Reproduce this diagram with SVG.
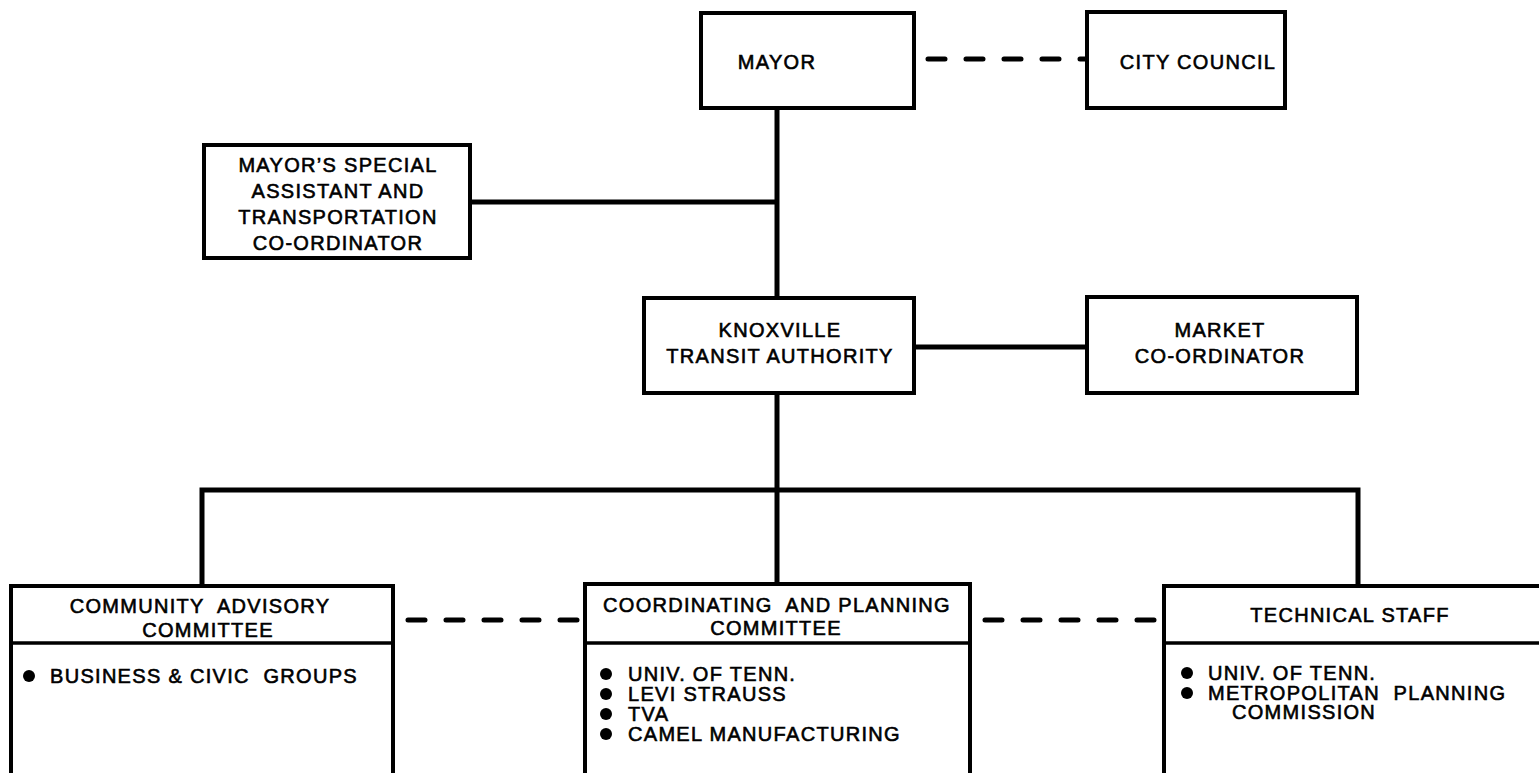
<svg xmlns="http://www.w3.org/2000/svg" width="1539" height="773" viewBox="0 0 1539 773">
  <style>
    .box { fill: #fff; stroke: #000; stroke-width: 4; }
    .div { stroke: #000; stroke-width: 3.5; }
    .line { stroke: #000; stroke-width: 5; fill: none; }
    .dash { stroke: #000; stroke-width: 5; fill: none; stroke-dasharray: 17 21; stroke-linecap: round; }
    text { font-family: "Liberation Sans", Arial, sans-serif; font-size: 20px; letter-spacing: 1.3px; fill: #000; stroke: #000; stroke-width: 0.6px; }
    .c { text-anchor: middle; }
    .dot { fill: #000; }
  </style>
  <rect width="1539" height="773" fill="#fff"/>

  <!-- connectors -->
  <g id="connectors">
    <line class="dash" x1="928" y1="59" x2="1086" y2="59"/>
    <line class="line" x1="777" y1="108" x2="777" y2="298"/>
    <line class="line" x1="470" y1="202" x2="777" y2="202"/>
    <line class="line" x1="914" y1="347" x2="1087" y2="347"/>
    <line class="line" x1="777" y1="393" x2="777" y2="584"/>
    <polyline class="line" points="202,586 202,490 1358,490 1358,586"/>
    <line class="dash" x1="408" y1="620" x2="583" y2="620"/>
    <line class="dash" x1="985" y1="620" x2="1160" y2="620"/>
  </g>

  <g id="mayor">
    <rect class="box" x="701" y="13" width="213" height="95"/>
    <text class="c" x="777" y="69">MAYOR</text>
  </g>

  <g id="city-council">
    <rect class="box" x="1087" y="12" width="198" height="96"/>
    <text class="c" x="1198" y="69">CITY COUNCIL</text>
  </g>

  <g id="special-assistant">
    <rect class="box" x="204" y="145" width="266" height="113"/>
    <text class="c" x="338" y="172">MAYOR’S SPECIAL</text>
    <text class="c" x="338" y="198">ASSISTANT AND</text>
    <text class="c" x="338" y="224">TRANSPORTATION</text>
    <text class="c" x="338" y="250">CO-ORDINATOR</text>
  </g>

  <g id="kta">
    <rect class="box" x="644" y="298" width="270" height="95"/>
    <text class="c" x="780" y="337">KNOXVILLE</text>
    <text class="c" x="780" y="363">TRANSIT AUTHORITY</text>
  </g>

  <g id="market-coordinator">
    <rect class="box" x="1087" y="297" width="270" height="96"/>
    <text class="c" x="1220" y="337">MARKET</text>
    <text class="c" x="1220" y="363">CO-ORDINATOR</text>
  </g>

  <g id="community-advisory">
    <rect class="box" x="11" y="586" width="382" height="210"/>
    <line class="div" x1="11" y1="643" x2="393" y2="643"/>
    <text class="c" x="200" y="613" xml:space="preserve">COMMUNITY  ADVISORY</text>
    <text class="c" x="208" y="637">COMMITTEE</text>
    <circle class="dot" cx="29" cy="676" r="6"/>
    <text x="50" y="683" xml:space="preserve">BUSINESS &amp; CIVIC  GROUPS</text>
  </g>

  <g id="coordinating-planning">
    <rect class="box" x="585" y="584" width="385" height="212"/>
    <line class="div" x1="585" y1="643" x2="970" y2="643"/>
    <text class="c" x="777" y="612" xml:space="preserve">COORDINATING  AND PLANNING</text>
    <text class="c" x="776" y="635">COMMITTEE</text>
    <circle class="dot" cx="606" cy="674" r="6"/>
    <text x="628" y="681">UNIV. OF TENN.</text>
    <circle class="dot" cx="606" cy="694" r="6"/>
    <text x="628" y="701">LEVI STRAUSS</text>
    <circle class="dot" cx="606" cy="714" r="6"/>
    <text x="628" y="721">TVA</text>
    <circle class="dot" cx="606" cy="734" r="6"/>
    <text x="628" y="741">CAMEL MANUFACTURING</text>
  </g>

  <g id="technical-staff">
    <rect class="box" x="1164" y="586" width="390" height="210"/>
    <line class="div" x1="1164" y1="643" x2="1554" y2="643"/>
    <text class="c" x="1350" y="622">TECHNICAL STAFF</text>
    <circle class="dot" cx="1187" cy="673" r="6"/>
    <text x="1208" y="680">UNIV. OF TENN.</text>
    <circle class="dot" cx="1187" cy="693" r="6"/>
    <text x="1208" y="700" xml:space="preserve">METROPOLITAN  PLANNING</text>
    <text x="1232" y="719">COMMISSION</text>
  </g>
</svg>
